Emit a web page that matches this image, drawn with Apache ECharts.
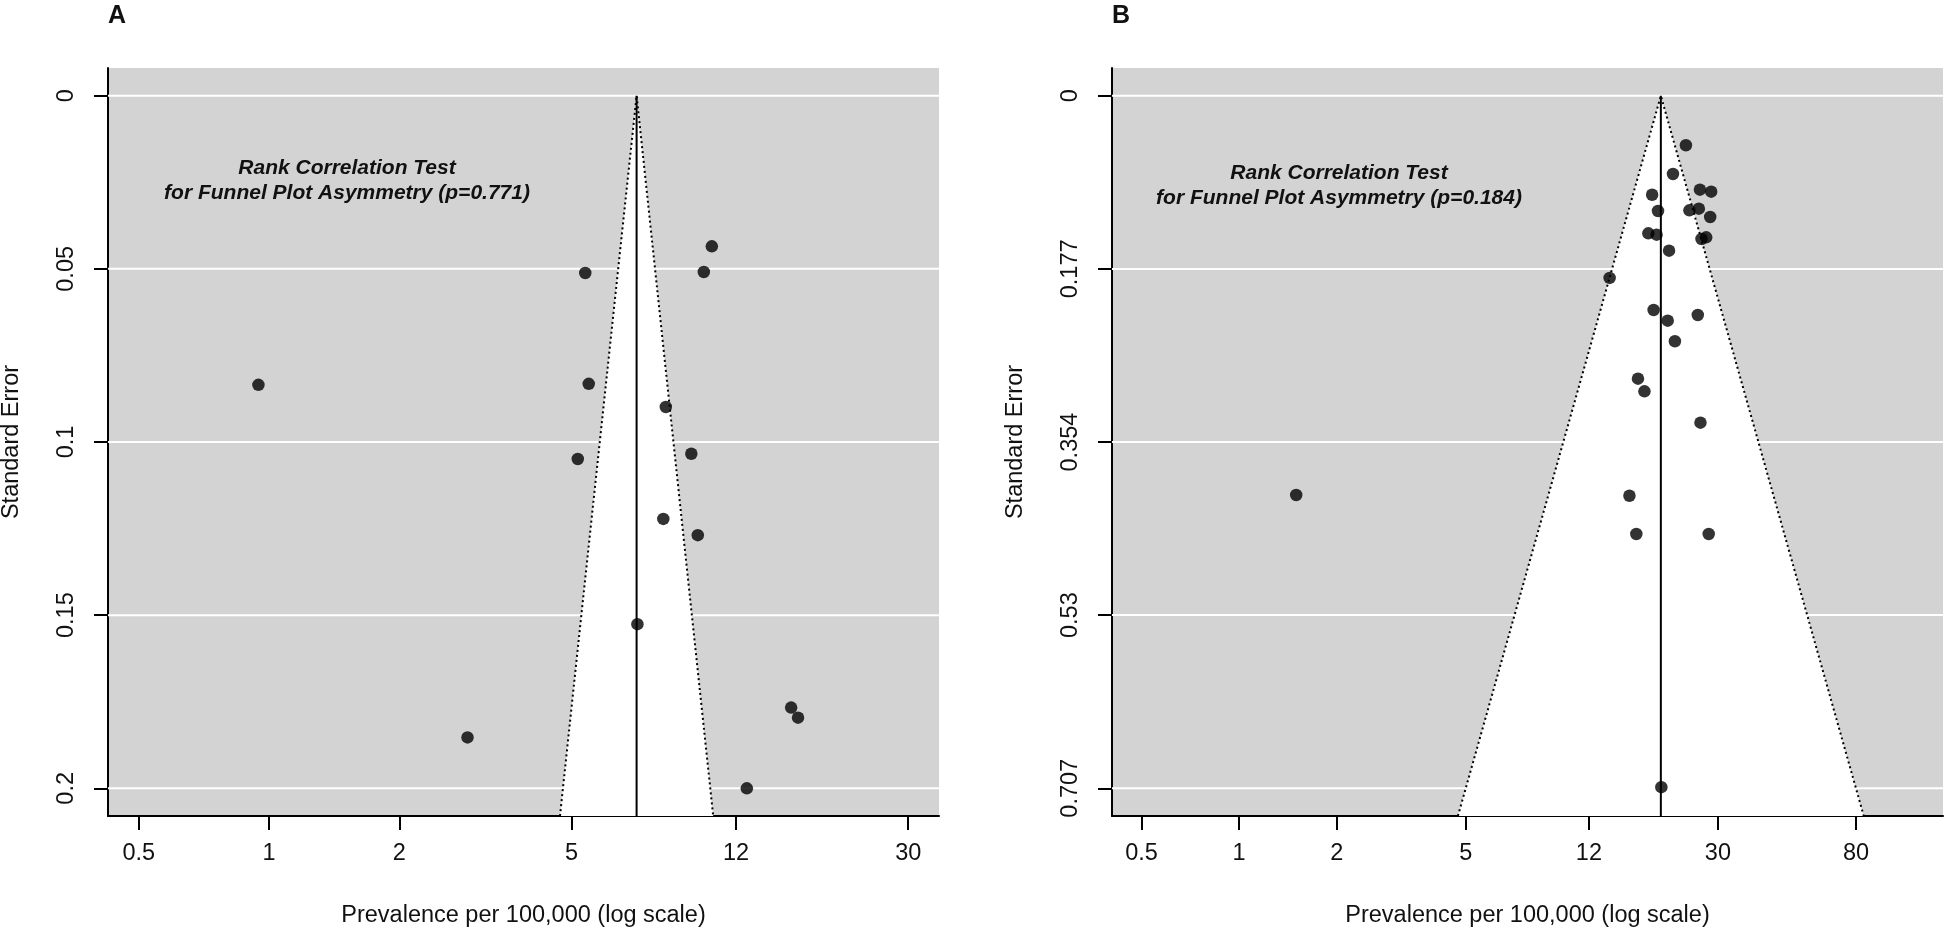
<!DOCTYPE html>
<html><head><meta charset="utf-8">
<script src="https://cdn.jsdelivr.net/npm/echarts@6/dist/echarts.min.js"></script>
<style>html,body{margin:0;padding:0;background:#fff}#c{width:1946px;height:931px}</style>
</head><body><div id="c"></div>
<script>
// ---- data ----
const xTickLabelsA = [0.5, 1, 2, 5, 12, 30];
const xTickLabelsB = [0.5, 1, 2, 5, 12, 30, 80];
const yTicksA = [0, 0.05, 0.1, 0.15, 0.2];
const yTickLabelsA = ['0', '0.05', '0.1', '0.15', '0.2'];
const yTicksB = [0, 0.1768, 0.3536, 0.5303, 0.7071];
const yTickLabelsB = ['0', '0.177', '0.354', '0.53', '0.707'];

const prevalenceA = [10.55, 10.11, 5.38, 0.945, 5.48, 8.26, 9.46, 5.17, 8.15, 9.79, 7.10, 16.09, 16.69, 2.875, 12.71];
const seA         = [0.0435, 0.0509, 0.0512, 0.0835, 0.0832, 0.0899, 0.1034, 0.1049, 0.1222, 0.1269, 0.1526, 0.1767, 0.1796, 0.1853, 0.2000];

const prevalenceB = [23.9, 21.8, 26.4, 28.6, 18.8, 19.6, 24.5, 26.2, 28.4, 18.3, 19.4, 26.7, 27.6, 21.2, 13.9,
                     19.0, 26.0, 21.0, 22.1, 17.0, 17.8, 26.5, 16.0, 16.8, 28.1, 1.50, 20.07];
const seB         = [0.0506, 0.0799, 0.0959, 0.0980, 0.1011, 0.1177, 0.1170, 0.1153, 0.1238, 0.1405, 0.1419, 0.1463, 0.1446, 0.1582, 0.1860,
                     0.2188, 0.2239, 0.2297, 0.2507, 0.2889, 0.3018, 0.3338, 0.4084, 0.4475, 0.4475, 0.4077, 0.7060];

const pooledA = 7.07;
const pooledB = 20.0;
const pValueA = '0.771';
const pValueB = '0.184';

// axis limits (log-prevalence on x, standard error on y)
const xLimA = [-0.857, 3.565];
const yLimA = [-0.008, 0.208];
const xLimB = [-0.903, 5.0];
const yLimB = [-0.0283, 0.7354];

const FONT = "'Liberation Sans', Arial, sans-serif";

function nearestLabel(vals, labels, v) {
  let bi = 0, bd = Infinity;
  vals.forEach((t, i) => { const d = Math.abs(t - v); if (d < bd) { bd = d; bi = i; } });
  return labels[bi];
}

function xAxisFor(gridIndex, ticks, lim) {
  const lv = ticks.map(Math.log);
  return {
    type: 'value', gridIndex, min: lim[0], max: lim[1],
    name: 'Prevalence per 100,000 (log scale)', nameLocation: 'middle', nameGap: 88,
    nameTextStyle: { fontFamily: FONT, fontSize: 23.5, color: '#111' },
    axisLine: { show: true, onZero: false, lineStyle: { color: '#000', width: 2 } },
    axisTick: { show: true, length: 14, lineStyle: { color: '#000', width: 2 }, customValues: lv },
    axisLabel: { show: true, margin: 26, fontFamily: FONT, fontSize: 23.5, color: '#111',
      customValues: lv, formatter: v => String(nearestLabel(lv, ticks, v)) },
    splitLine: { show: false }
  };
}
function yAxisFor(gridIndex, ticks, labels, lim) {
  return {
    type: 'value', gridIndex, min: lim[0], max: lim[1], inverse: true,
    name: 'Standard Error', nameLocation: 'middle', nameGap: 84, nameRotate: 90,
    nameTextStyle: { fontFamily: FONT, fontSize: 23.5, color: '#111' },
    axisLine: { show: true, onZero: false, lineStyle: { color: '#000', width: 2 } },
    axisTick: { show: true, length: 14, lineStyle: { color: '#000', width: 2 }, customValues: ticks },
    axisLabel: { show: true, rotate: 90, margin: 29, fontFamily: FONT, fontSize: 23.5, color: '#111',
      customValues: ticks, formatter: v => nearestLabel(ticks, labels, v) },
    splitLine: { show: false }
  };
}

function panelSeries(idx, prev, se, pooled, yTicks, xLim, yLim) {
  const est = Math.log(pooled);
  const ymax = yLim[1];
  return [
    { // white horizontal grid lines
      type: 'custom', xAxisIndex: idx, yAxisIndex: idx, z: 1, silent: true,
      data: yTicks.map(v => [xLim[0], v]),
      renderItem: (params, api) => {
        const v = api.value(1);
        const a = api.coord([xLim[0], v]), b = api.coord([xLim[1], v]);
        return { type: 'line', shape: { x1: a[0], y1: a[1], x2: b[0], y2: b[1] },
          style: { stroke: '#fff', lineWidth: 2 } };
      }
    },
    { // white funnel region
      type: 'custom', xAxisIndex: idx, yAxisIndex: idx, z: 2, silent: true,
      data: [[est, ymax]],
      renderItem: (params, api) => {
        const e = api.value(0), m = api.value(1);
        const p0 = api.coord([e - 1.96 * m, m]);
        const p1 = api.coord([e, 0]);
        const p2 = api.coord([e + 1.96 * m, m]);
        return { type: 'polygon', shape: { points: [p0, p1, p2] }, style: { fill: '#fff' } };
      }
    },
    { // dotted pseudo-confidence limits
      type: 'line', xAxisIndex: idx, yAxisIndex: idx, z: 3, silent: true, symbol: 'none',
      data: [[est - 1.96 * ymax, ymax], [est, 0], [est + 1.96 * ymax, ymax]],
      lineStyle: { color: '#000', width: 2, type: [2, 3] }, animation: false
    },
    { // pooled estimate line
      type: 'line', xAxisIndex: idx, yAxisIndex: idx, z: 3, silent: true, symbol: 'none',
      data: [[est, 0], [est, ymax]],
      lineStyle: { color: '#000', width: 2 }, animation: false
    },
    { // studies
      type: 'scatter', xAxisIndex: idx, yAxisIndex: idx, z: 4,
      data: prev.map((p, i) => [Math.log(p), se[i]]),
      symbol: 'circle', symbolSize: 12.5, itemStyle: { color: '#000' }, animation: false
    }
  ];
}

const chart = echarts.init(document.getElementById('c'), null, { renderer: 'canvas' });
chart.setOption({
  animation: false,
  backgroundColor: '#fff',
  grid: [
    { left: 108, top: 68, width: 831, height: 748, show: true, backgroundColor: '#d3d3d3', borderWidth: 0, containLabel: false, outerBoundsMode: 'none' },
    { left: 1112, top: 68, width: 831, height: 748, show: true, backgroundColor: '#d3d3d3', borderWidth: 0, containLabel: false, outerBoundsMode: 'none' }
  ],
  xAxis: [xAxisFor(0, xTickLabelsA, xLimA), xAxisFor(1, xTickLabelsB, xLimB)],
  yAxis: [yAxisFor(0, yTicksA, yTickLabelsA, yLimA), yAxisFor(1, yTicksB, yTickLabelsB, yLimB)],
  graphic: [
    { type: 'text', left: 108, top: 4, style: { text: 'A', font: "bold 25px " + FONT, fill: '#111' } },
    { type: 'text', left: 1112, top: 4, style: { text: 'B', font: "bold 25px " + FONT, fill: '#111' } },
    { type: 'text', x: 347, y: 168, style: { text: 'Rank Correlation Test', font: "italic bold 21px " + FONT, fill: '#111', align: 'center', verticalAlign: 'middle' } },
    { type: 'text', x: 347, y: 193, style: { text: 'for Funnel Plot Asymmetry (p=' + pValueA + ')', font: "italic bold 21px " + FONT, fill: '#111', align: 'center', verticalAlign: 'middle' } },
    { type: 'text', x: 1339, y: 173, style: { text: 'Rank Correlation Test', font: "italic bold 21px " + FONT, fill: '#111', align: 'center', verticalAlign: 'middle' } },
    { type: 'text', x: 1339, y: 198, style: { text: 'for Funnel Plot Asymmetry (p=' + pValueB + ')', font: "italic bold 21px " + FONT, fill: '#111', align: 'center', verticalAlign: 'middle' } }
  ],
  series: [
    ...panelSeries(0, prevalenceA, seA, pooledA, yTicksA, xLimA, yLimA),
    ...panelSeries(1, prevalenceB, seB, pooledB, yTicksB, xLimB, yLimB)
  ]
});
</script>
</body></html>
